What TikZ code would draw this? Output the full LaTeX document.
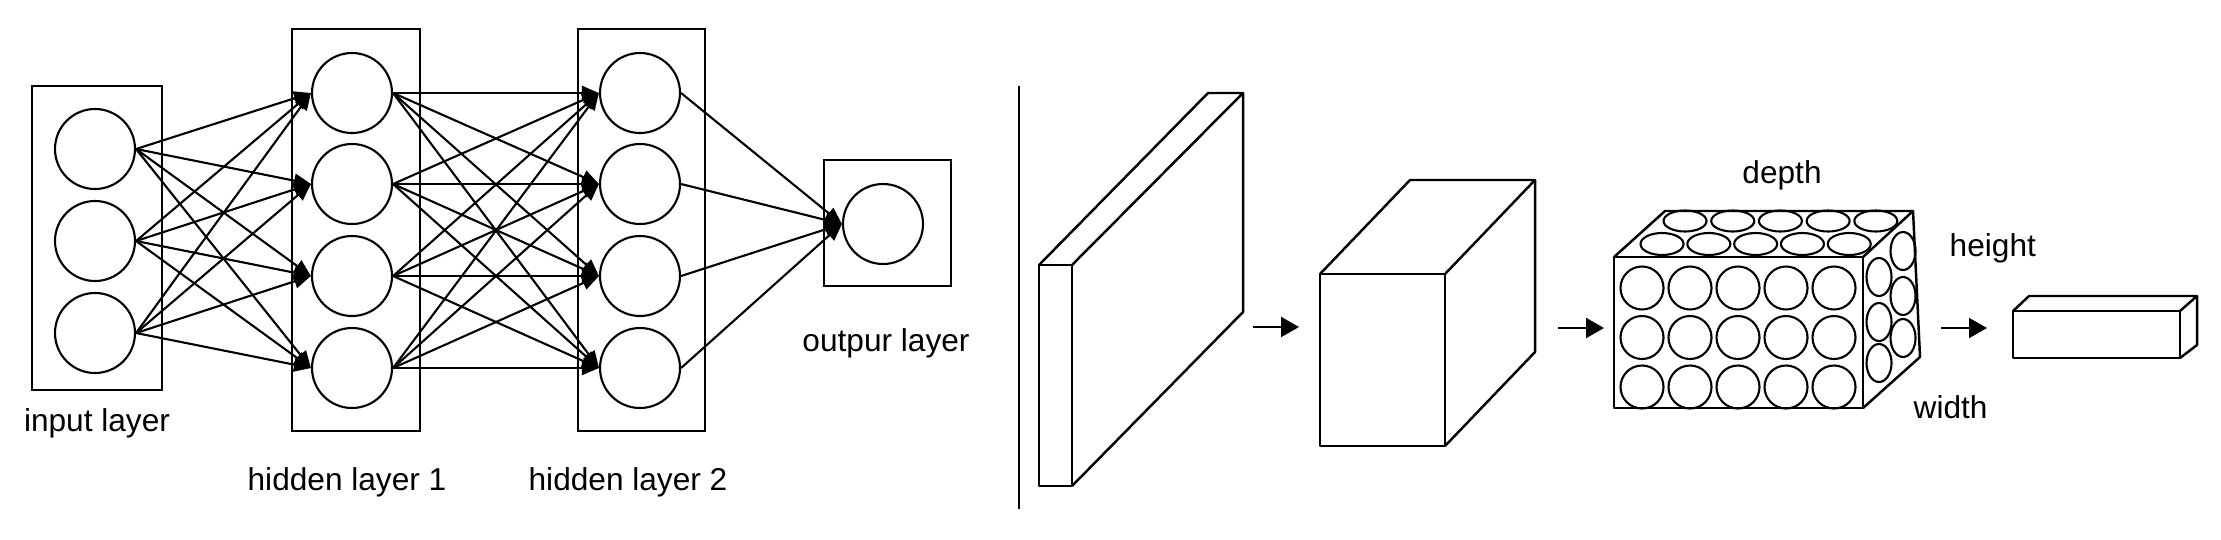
\documentclass[tikz,border=0pt]{standalone}
\usepackage{fontspec}
\setmainfont{Liberation Sans}
\usepackage{tikz}
\usetikzlibrary{arrows.meta}
\tikzset{
  layerbox/.style={rectangle, draw, line width=0.6pt, inner sep=0pt},
  neuron/.style={circle, draw, line width=0.6pt, minimum size=0.8cm, inner sep=0pt},
  netarrow/.style={-{Triangle[length=1.7mm,width=1.4mm]}, line width=0.6pt},
  flowarrow/.style={-{Triangle[length=1.8mm,width=2mm]}, line width=0.6pt},
  % --- volume drawing styles ---
  layerlabel/.style={font=\fontsize{9}{11}\selectfont, anchor=base, inner sep=0pt},
  volume/.style={line width=0.7pt, line join=round},
  cell/.style={line width=0.6pt},
}

\begin{document}
\begin{tikzpicture}[x=1cm,y=1cm]
  \useasboundingbox (0,0) rectangle (22.21,5.39);

  \node[layerbox, minimum width=1.30cm, minimum height=3.04cm] (inbox) at (0.97,3.01) {};
  \node[layerbox, minimum width=1.28cm, minimum height=4.02cm] (hidbox1) at (3.56,3.09) {};
  \node[layerbox, minimum width=1.27cm, minimum height=4.02cm] (hidbox2) at (6.415,3.09) {};
  \node[layerbox, minimum width=1.27cm, minimum height=1.26cm] (outbox) at (8.875,3.16) {};

  \node[neuron] (in1) at (0.95,3.90) {};
  \node[neuron] (in2) at (0.95,2.98) {};
  \node[neuron] (in3) at (0.95,2.06) {};

  \node[neuron] (ha1) at (3.52,4.46) {};
  \node[neuron] (ha2) at (3.52,3.55) {};
  \node[neuron] (ha3) at (3.52,2.63) {};
  \node[neuron] (ha4) at (3.52,1.71) {};

  \node[neuron] (hb1) at (6.40,4.46) {};
  \node[neuron] (hb2) at (6.40,3.55) {};
  \node[neuron] (hb3) at (6.40,2.63) {};
  \node[neuron] (hb4) at (6.40,1.71) {};

  \node[neuron] (out) at (8.83,3.15) {};

  \foreach \i in {1,2,3}
    \foreach \j in {1,...,4}
      \draw[netarrow] (in\i.east) -- (ha\j.west);
  \foreach \i in {1,...,4}
    \foreach \j in {1,...,4}
      \draw[netarrow] (ha\i.east) -- (hb\j.west);
  \foreach \i in {1,...,4}
    \draw[netarrow] (hb\i.east) -- (out.west);

  \node[layerlabel] (inlabel) at (0.97,1.08) {input layer};
  \node[layerlabel] (hidlabel1) at (3.47,0.49) {hidden layer 1};
  \node[layerlabel] (hidlabel2) at (6.28,0.49) {hidden layer 2};
  \node[layerlabel] (outlabel) at (8.86,1.88) {outpur layer};

  \draw[line width=0.6pt] (10.19,4.53) -- (10.19,0.30);

  % thin slab
  \draw[volume] (10.39,0.53) rectangle (10.72,2.74);
  \draw[volume] (10.39,2.74) -- (12.08,4.46) -- (12.43,4.46) -- (10.72,2.74);
  \draw[volume] (12.43,4.46) -- (12.43,2.27) -- (10.72,0.53);

  % block
  \draw[volume] (13.20,0.93) rectangle (14.45,2.65);
  \draw[volume] (13.20,2.65) -- (14.10,3.59) -- (15.35,3.59) -- (14.45,2.65);
  \draw[volume] (15.35,3.59) -- (15.35,1.87) -- (14.45,0.93);

  % block of neurons
  \draw[volume] (16.14,1.31) rectangle (18.63,2.82);
  \draw[volume] (16.14,2.82) -- (16.65,3.28) -- (19.13,3.28) -- (18.63,2.82);
  \draw[volume] (19.13,3.28) -- (19.20,1.82) -- (18.63,1.31);
  \foreach \c in {0,...,4}
    \foreach \r in {0,1,2}
      \draw[cell] (16.42+0.48*\c,2.51-0.495*\r) circle (0.215);
  \foreach \c in {0,...,4} {
    \draw[cell] (16.85+0.477*\c,3.18) ellipse (0.215 and 0.105);
    \draw[cell] (16.62+0.468*\c,2.95) ellipse (0.215 and 0.11);
  }
  \foreach \y in {2.62,2.17,1.76}
    \draw[cell] (18.79,\y) ellipse (0.125 and 0.19);
  \foreach \y in {2.88,2.43,2.01}
    \draw[cell] (19.03,\y) ellipse (0.125 and 0.19);

  % flat output
  \draw[volume] (20.13,1.81) rectangle (21.80,2.28);
  \draw[volume] (20.13,2.28) -- (20.29,2.43) -- (21.97,2.43) -- (21.80,2.28);
  \draw[volume] (21.97,2.43) -- (21.97,1.94) -- (21.80,1.81);

  \coordinate (flow1a) at (12.53,2.12);
  \coordinate (flow1b) at (12.99,2.12);
  \coordinate (flow2a) at (15.58,2.11);
  \coordinate (flow2b) at (16.04,2.11);
  \coordinate (flow3a) at (19.41,2.11);
  \coordinate (flow3b) at (19.87,2.11);
  \draw[flowarrow] (flow1a) -- (flow1b);
  \draw[flowarrow] (flow2a) -- (flow2b);
  \draw[flowarrow] (flow3a) -- (flow3b);

  \node[layerlabel] (depthlabel) at (17.82,3.56) {depth};
  \node[layerlabel, anchor=base west] (heightlabel) at (19.49,2.83) {height};
  \node[layerlabel, anchor=base west] (widthlabel) at (19.13,1.21) {width};
\end{tikzpicture}
\end{document}
